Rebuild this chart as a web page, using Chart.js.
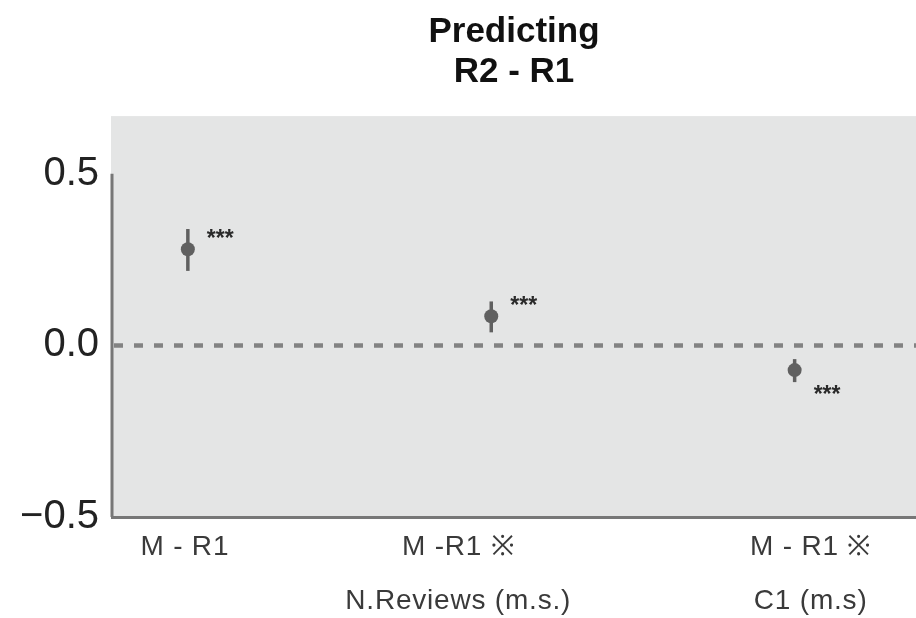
<!DOCTYPE html>
<html>
<head>
<meta charset="utf-8">
<script src="https://cdn.jsdelivr.net/npm/chart.js@4/dist/chart.umd.min.js"></script>
<style>
  html, body { margin: 0; padding: 0; background: #fff; }
  canvas { display: block; }
</style>
</head>
<body>
<canvas id="coefChart" width="916" height="618"></canvas>
<script>
// -----------------------------
// Data
// -----------------------------
const categories = ['M - R1', 'M -R1 \u203B', 'M - R1 \u203B'];
const subLabels = ['', 'N.Reviews (m.s.)', 'C1 (m.s)'];
const estimates = [0.28, 0.085, -0.072];
const lowerCI = [0.217, 0.038, -0.107];
const upperCI = [0.339, 0.128, -0.04];
const stars = ['***', '***', '***'];
const yTicks = [-0.5, 0, 0.5];

// -----------------------------
// Look
// -----------------------------
const FONT = '"Liberation Sans", Arial, Helvetica, sans-serif';
const panelColor = '#e4e5e5';
const markColor = '#606060';
const axisColor = '#777777';
const labelShift = [-3, -33, 16];   // horizontal nudge of each category label

const fmtTick = v => (v < 0 ? '\u2212' : '') + Math.abs(v).toFixed(1);

// panel, zero line, error bars, stars, category labels
const decorations = {
    id: 'decorations',
    beforeDraw(chart) {
        const { ctx, chartArea: a } = chart;
        ctx.save();
        ctx.fillStyle = '#ffffff';
        ctx.fillRect(0, 0, chart.width, chart.height);
        ctx.fillStyle = panelColor;
        ctx.fillRect(a.left - 1, a.top, a.right - a.left + 1, a.bottom - a.top);
        ctx.restore();
    },
    beforeDatasetsDraw(chart) {
        const { ctx, chartArea: a, scales: { x, y } } = chart;
        ctx.save();

        // y axis line only across the tick range
        ctx.strokeStyle = axisColor;
        ctx.lineWidth = 3;
        ctx.beginPath();
        ctx.moveTo(a.left, y.getPixelForValue(yTicks[yTicks.length - 1]));
        ctx.lineTo(a.left, y.getPixelForValue(yTicks[0]));
        ctx.stroke();

        // zero reference
        const y0 = y.getPixelForValue(0);
        ctx.strokeStyle = '#828282';
        ctx.lineWidth = 4.5;
        ctx.setLineDash([9, 11]);
        ctx.beginPath();
        ctx.moveTo(a.left + 2, y0);
        ctx.lineTo(a.right, y0);
        ctx.stroke();
        ctx.setLineDash([]);

        // confidence intervals
        ctx.strokeStyle = markColor;
        ctx.lineWidth = 3.5;
        categories.forEach((c, i) => {
            const px = x.getPixelForValue(i + 1);
            ctx.beginPath();
            ctx.moveTo(px, y.getPixelForValue(upperCI[i]));
            ctx.lineTo(px, y.getPixelForValue(lowerCI[i]));
            ctx.stroke();
        });
        ctx.restore();
    },
    afterDraw(chart) {
        const { ctx, scales: { x, y } } = chart;
        ctx.save();

        // significance stars
        ctx.fillStyle = '#2a2a2a';
        ctx.font = 'bold 23px ' + FONT;
        ctx.textAlign = 'left';
        ctx.textBaseline = 'alphabetic';
        estimates.forEach((v, i) => {
            const px = x.getPixelForValue(i + 1);
            const py = y.getPixelForValue(v);
            ctx.fillText(stars[i], px + 19, v >= 0 ? py - 3 : py + 32);
        });

        // category labels under the axis
        ctx.fillStyle = '#3a3a3a';
        ctx.font = '28px ' + FONT;
        ctx.letterSpacing = '0.8px';
        ctx.textAlign = 'center';
        ctx.textBaseline = 'middle';
        categories.forEach((c, i) => {
            const px = x.getPixelForValue(i + 1) + labelShift[i];
            ctx.fillText(c, px, 547);
            if (subLabels[i]) ctx.fillText(subLabels[i], px, 601);
        });
        ctx.restore();
    }
};

new Chart(document.getElementById('coefChart').getContext('2d'), {
    type: 'scatter',
    data: {
        datasets: [{
            data: estimates.map((v, i) => ({ x: i + 1, y: v })),
            pointRadius: 7,
            pointHoverRadius: 7,
            backgroundColor: markColor,
            borderWidth: 0
        }]
    },
    options: {
        responsive: false,
        animation: false,
        layout: { padding: 0, autoPadding: false },
        plugins: {
            legend: { display: false },
            tooltip: { enabled: false },
            title: {
                display: true,
                fullSize: false,
                text: ['Predicting', 'R2 - R1'],
                color: '#111111',
                font: { family: FONT, size: 35, weight: 'bold', lineHeight: 1.13 },
                padding: { top: 13, bottom: 24 }
            }
        },
        scales: {
            x: {
                type: 'linear',
                min: 0.75,
                max: 3.4,
                ticks: { display: false },
                grid: { display: false, drawTicks: false },
                border: { display: true, color: axisColor, width: 3 },
                afterFit: s => { s.height = 101; }
            },
            y: {
                min: -0.5,
                max: 0.668,
                afterBuildTicks: s => { s.ticks = yTicks.map(v => ({ value: v })); },
                ticks: {
                    color: '#222222',
                    font: { family: FONT, size: 40 },
                    padding: 13,
                    callback: v => fmtTick(v)
                },
                grid: { display: false, drawTicks: false },
                border: { display: false },
                afterFit: s => { s.width = 112; }
            }
        }
    },
    plugins: [decorations]
});
</script>
</body>
</html>
